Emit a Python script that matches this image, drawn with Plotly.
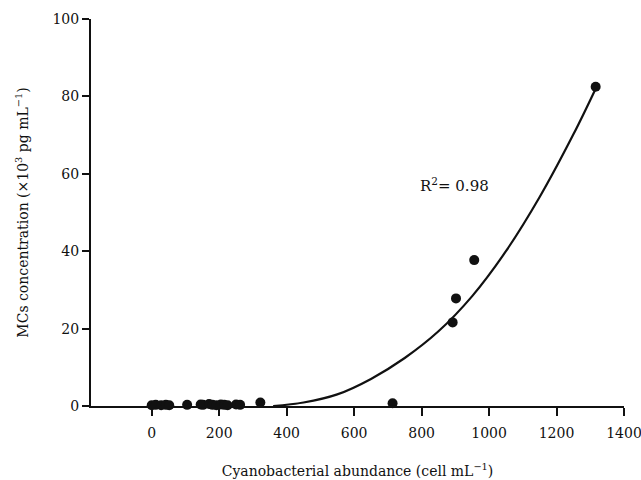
import plotly.graph_objects as go

# Observed data (cell mL^-1 vs MCs x10^3 pg mL^-1)
abundance = [0, 12, 28, 42, 52, 105, 145, 152, 170, 180, 192, 205, 215, 225,
             250, 262, 322, 714, 892, 902, 956, 1316]
mcs = [0.2, 0.3, 0.2, 0.3, 0.2, 0.3, 0.4, 0.3, 0.5, 0.3, 0.2, 0.4, 0.3, 0.2,
       0.4, 0.3, 0.9, 0.7, 21.6, 27.8, 37.7, 82.5]

# Fitted curve
fit_x = [360, 450, 550, 650, 750, 850, 950, 1050, 1150, 1250, 1316]
fit_y = [0.0, 0.9, 3.0, 7.0, 12.4, 19.3, 28.4, 40.0, 54.0, 70.2, 82.0]

x_ticks = [0, 200, 400, 600, 800, 1000, 1200, 1400]
y_ticks = [0, 20, 40, 60, 80, 100]

FONT = "DejaVu Serif"
INK = "#111111"

fig = go.Figure()
fig.add_trace(go.Scatter(x=fit_x, y=fit_y, mode="lines",
                         line=dict(color=INK, width=2.2, shape="spline"),
                         hoverinfo="skip"))
fig.add_trace(go.Scatter(x=abundance, y=mcs, mode="markers",
                         marker=dict(color=INK, size=10),
                         cliponaxis=False))

fig.add_annotation(x=789, y=57, xref="x", yref="y", xanchor="left", yanchor="middle",
                   text="R<sup>2</sup>= 0.98", showarrow=False,
                   font=dict(family=FONT, size=15, color=INK))

fig.update_layout(
    width=641, height=480,
    margin=dict(l=91, r=17, t=19, b=74),
    paper_bgcolor="white", plot_bgcolor="white",
    showlegend=False,
    font=dict(family=FONT, size=14, color=INK),
)
fig.update_xaxes(range=[-180, 1400], tickvals=x_ticks, ticktext=[str(v) for v in x_ticks],
                 showline=True, linecolor=INK, linewidth=2,
                 ticks="outside", ticklen=8, tickwidth=2, tickcolor=INK,
                 showgrid=False, zeroline=False, ticklabelstandoff=5,
                 ticklabeloverflow="allow",
                 tickfont=dict(family=FONT, size=14, color=INK),
                 title=dict(text="Cyanobacterial abundance (cell mL<sup>\u22121</sup>)",
                            font=dict(family=FONT, size=14, color=INK), standoff=26),
                 automargin=False)
fig.update_yaxes(range=[0, 100], tickvals=y_ticks, ticktext=[str(v) for v in y_ticks],
                 showline=True, linecolor=INK, linewidth=2,
                 ticks="outside", ticklen=7, tickwidth=2, tickcolor=INK,
                 showgrid=False, zeroline=False,
                 tickfont=dict(family=FONT, size=14, color=INK),
                 title=dict(text="MCs concentration (\u00d710<sup>3</sup> pg mL<sup>\u22121</sup>)",
                            font=dict(family=FONT, size=14, color=INK), standoff=21),
                 automargin=False)

fig.write_html("out.html", config={"displayModeBar": False},
               post_script="document.body.style.margin='0';document.body.style.padding='0';")
